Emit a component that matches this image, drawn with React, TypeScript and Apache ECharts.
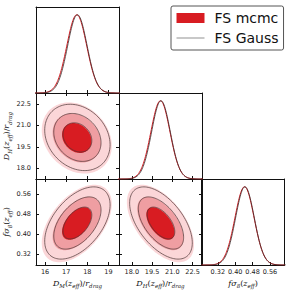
import React, { useEffect, useRef } from "react";
import * as echarts from "echarts";

// ---- data ----
const paramKeys = ["DM", "DH", "fs8"];
const mcmcMean = [17.5, 20.12, 0.443];
const mcmcSigma = [0.46, 0.69, 0.043];
const gaussMean = [17.53, 20.16, 0.445];
const gaussSigma = [0.45, 0.675, 0.042];
// correlations for pairs [row, col]
const pairRows = [1, 2, 2];
const pairCols = [0, 0, 1];
const mcmcCorr = [-0.22, 0.5, -0.55];
const gaussCorr = [-0.22, 0.5, -0.55];
const mcmcLevels = [2.3, 6.18, 13.0];
const gaussLevels = [2.3, 6.18, 11.83];
const fillColors = ["#d81c22", "#ef9ea2", "#fbd6d8"];
const tickValues = [
  [16, 17, 18, 19],
  [18.0, 19.5, 21.0, 22.5],
  [0.32, 0.4, 0.48, 0.56],
];
const tickDecimals = [0, 1, 2];
const colMin = [15.57, 17.05, 0.245];
const colMax = [19.5, 23.2, 0.627];
const rowMin = [0, 17.25, 0.277];
const rowMax = [1, 23.27, 0.621];
const legendNames = ["FS mcmc", "FS Gauss"];

// ---- layout ----
const colLeft = [36, 119, 201.5];
const colWidth = 83;
const rowTop = [7, 93, 179];
const rowHeight = 86;
const cells: [number, number][] = [
  [0, 0],
  [1, 0],
  [1, 1],
  [2, 0],
  [2, 1],
  [2, 2],
];

const RED = "#d81c22";
const GAUSS_LINE = "#3a2a2a";

const mathRich = {
  i: { fontFamily: "DejaVu Serif", fontStyle: "italic", fontSize: 8, color: "#111", lineHeight: 12, verticalAlign: "middle" },
  n: { fontFamily: "DejaVu Serif", fontSize: 8, color: "#111", lineHeight: 12, verticalAlign: "middle" },
  s: { fontFamily: "DejaVu Serif", fontStyle: "italic", fontSize: 5.5, color: "#111", lineHeight: 12, verticalAlign: "bottom" },
};
const axisTitles = [
  "{i|D}{s|M}{n|(}{i|z}{s|eff}{n|)/}{i|r}{s|drag}",
  "{i|D}{s|H}{n|(}{i|z}{s|eff}{n|)/}{i|r}{s|drag}",
  "{i|fσ}{s|8}{n|(}{i|z}{s|eff}{n|)}",
];

function ellipsePoints(mx: number, my: number, sx: number, sy: number, rho: number, d2: number) {
  const r = Math.sqrt(d2);
  const pts: number[][] = [];
  const n = 120;
  for (let k = 0; k < n; k++) {
    const t = (2 * Math.PI * k) / n;
    const x = mx + r * sx * Math.cos(t);
    const y = my + r * sy * (rho * Math.cos(t) + Math.sqrt(1 - rho * rho) * Math.sin(t));
    pts.push([x, y]);
  }
  return pts;
}

function gaussCurve(mu: number, sigma: number) {
  const pts: number[][] = [];
  const n = 160;
  for (let k = 0; k <= n; k++) {
    const x = mu - 4.5 * sigma + (9 * sigma * k) / n;
    const z = (x - mu) / sigma;
    pts.push([x, Math.exp(-0.5 * z * z) * 0.91]);
  }
  return pts;
}

function buildOption() {
  const grid: any[] = [];
  const xAxis: any[] = [];
  const yAxis: any[] = [];
  const series: any[] = [];
  const labelStyle = { fontSize: 6.5, fontFamily: "DejaVu Sans", color: "#222" };

  cells.forEach(([r, c], g) => {
    const diag = r === c;
    grid.push({ left: colLeft[c], top: rowTop[r], width: colWidth, height: rowHeight, containLabel: false });
    const fmtX = (v: number) => v.toFixed(tickDecimals[c]);
    const fmtY = (v: number) => v.toFixed(tickDecimals[r]);
    const lineStyle = { color: "#111", width: 1 };
    const tickStyle = { color: "#111", width: 1 };
    xAxis.push({
      gridIndex: g,
      type: "value",
      position: "bottom",
      min: colMin[c],
      max: colMax[c],
      axisLine: { show: true, onZero: false, lineStyle },
      axisTick: { show: true, inside: true, length: 3, customValues: tickValues[c], lineStyle: tickStyle },
      axisLabel: { show: r === 2, customValues: tickValues[c], formatter: fmtX, margin: 3.5, ...labelStyle },
      splitLine: { show: false },
      name: r === 2 ? axisTitles[c] : "",
      nameLocation: "middle",
      nameGap: 12,
      nameTextStyle: { rich: mathRich },
    });
    xAxis.push({
      gridIndex: g,
      type: "value",
      position: "top",
      min: colMin[c],
      max: colMax[c],
      axisLine: { show: true, onZero: false, lineStyle },
      axisTick: { show: !diag, inside: true, length: 3, customValues: tickValues[c], lineStyle: tickStyle },
      axisLabel: { show: false },
      splitLine: { show: false },
    });
    yAxis.push({
      gridIndex: g,
      type: "value",
      position: "left",
      min: diag ? 0 : rowMin[r],
      max: diag ? 1 : rowMax[r],
      axisLine: { show: true, onZero: false, lineStyle },
      axisTick: { show: !diag, inside: true, length: 3, customValues: diag ? [] : tickValues[r], lineStyle: tickStyle },
      axisLabel: { show: !diag && c === 0, customValues: diag ? [] : tickValues[r], formatter: fmtY, margin: 5, ...labelStyle },
      splitLine: { show: false },
      name: !diag && c === 0 ? axisTitles[r] : "",
      nameLocation: "middle",
      nameRotate: 90,
      nameGap: 21.5,
      nameTextStyle: { rich: mathRich },
    });
    yAxis.push({
      gridIndex: g,
      type: "value",
      position: "right",
      min: diag ? 0 : rowMin[r],
      max: diag ? 1 : rowMax[r],
      axisLine: { show: true, onZero: false, lineStyle },
      axisTick: { show: !diag, inside: true, length: 3, customValues: diag ? [] : tickValues[r], lineStyle: tickStyle },
      axisLabel: { show: false },
      splitLine: { show: false },
    });

    const xi = 2 * g;
    const yi = 2 * g;
    if (diag) {
      series.push({
        type: "line",
        name: legendNames[0],
        xAxisIndex: xi,
        yAxisIndex: yi,
        data: gaussCurve(mcmcMean[c], mcmcSigma[c] * 1.02),
        showSymbol: false,
        symbol: "none",
        lineStyle: { color: RED, width: 1 },
        itemStyle: { color: RED },
      });
      series.push({
        type: "line",
        name: legendNames[1],
        xAxisIndex: xi,
        yAxisIndex: yi,
        data: gaussCurve(gaussMean[c], gaussSigma[c] * 1.02),
        showSymbol: false,
        symbol: "none",
        lineStyle: { color: GAUSS_LINE, width: 0.8 },
        itemStyle: { color: GAUSS_LINE },
      });
    } else {
      const p = pairRows.findIndex((rr, k) => rr === r && pairCols[k] === c);
      const mcData = [2, 1, 0].map((lv) => [mcmcMean[c], mcmcMean[r], lv]);
      series.push({
        type: "custom",
        name: legendNames[0],
        xAxisIndex: xi,
        yAxisIndex: yi,
        data: mcData,
        encode: { x: 0, y: 1 },
        clip: true,
        renderItem: (params: any, api: any) => {
          const lv = api.value(2);
          const pts = ellipsePoints(mcmcMean[c], mcmcMean[r], mcmcSigma[c], mcmcSigma[r], mcmcCorr[p], mcmcLevels[lv]).map(
            (q) => api.coord(q)
          );
          return { type: "polygon", shape: { points: pts }, style: { fill: fillColors[lv], stroke: "none" } };
        },
      });
      const gData = [0, 1, 2].map((lv) => [gaussMean[c], gaussMean[r], lv]);
      series.push({
        type: "custom",
        name: legendNames[1],
        xAxisIndex: xi,
        yAxisIndex: yi,
        data: gData,
        encode: { x: 0, y: 1 },
        clip: true,
        renderItem: (params: any, api: any) => {
          const lv = api.value(2);
          const pts = ellipsePoints(gaussMean[c], gaussMean[r], gaussSigma[c], gaussSigma[r], gaussCorr[p], gaussLevels[lv]).map(
            (q) => api.coord(q)
          );
          return { type: "polygon", shape: { points: pts }, style: { fill: "none", stroke: "#4a3434", lineWidth: 0.7 } };
        },
      });
    }
  });

  return {
    animation: false,
    backgroundColor: "#ffffff",
    grid,
    xAxis,
    yAxis,
    series,
    legend: {
      data: [
        { name: legendNames[0], icon: "rect", itemStyle: { color: RED } },
        { name: legendNames[1], icon: "path://M0,0H30V1H0Z", itemStyle: { color: "#8a8a8a" } },
      ],
      orient: "vertical",
      left: 171,
      top: 6,
      itemWidth: 28,
      itemHeight: 10,
      itemGap: 6,
      padding: [5, 5, 5, 5.5],
      borderColor: "#555",
      borderWidth: 1,
      borderRadius: 2,
      backgroundColor: "#fff",
      selectedMode: false,
      textStyle: { fontSize: 14, fontFamily: "DejaVu Sans", color: "#111", padding: [0, 0, 0, 5] },
    },
  };
}

export default function App() {
  const ref = useRef<HTMLDivElement>(null);
  useEffect(() => {
    if (!ref.current) return;
    const chart = echarts.init(ref.current, undefined, { renderer: "svg" });
    chart.setOption(buildOption() as any);
    return () => chart.dispose();
  }, []);
  return (
    <div
      ref={ref}
      style={{ position: "fixed", left: 0, top: 0, width: 292, height: 294, background: "#fff" }}
    />
  );
}
